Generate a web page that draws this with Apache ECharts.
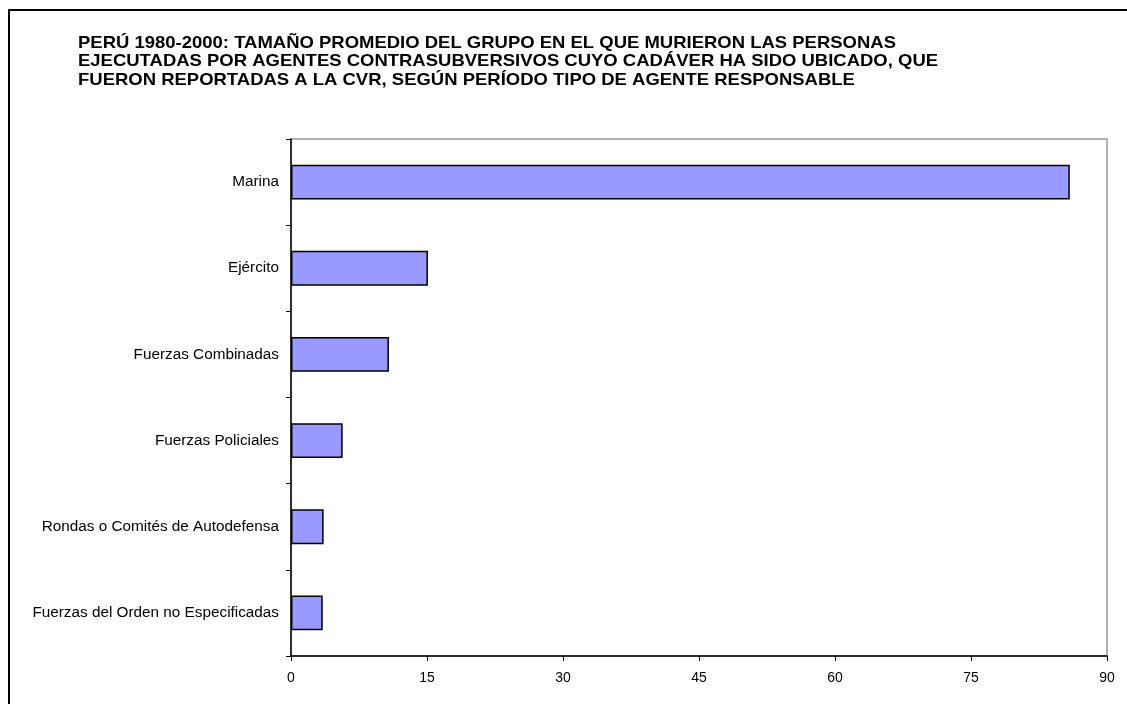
<!DOCTYPE html>
<html>
<head>
<meta charset="utf-8">
<script src="https://cdn.jsdelivr.net/npm/echarts@6/dist/echarts.min.js"></script>
<style>
  html, body { margin: 0; padding: 0; background: #fff; }
  #chart { width: 1127px; height: 704px; }
</style>
</head>
<body>
<div id="chart"></div>
<script>
  // datos
  var categories = ['Marina', 'Ejército', 'Fuerzas Combinadas', 'Fuerzas Policiales',
    'Rondas o Comités de Autodefensa', 'Fuerzas del Orden no Especificadas']
  var values = [85.9, 15.1, 10.8, 5.7, 3.6, 3.5]
  var xTicks = [0, 15, 30, 45, 60, 75, 90]

  var titleText = 'PERÚ 1980-2000: TAMAÑO PROMEDIO DEL GRUPO EN EL QUE MURIERON LAS PERSONAS\n' +
    'EJECUTADAS POR AGENTES CONTRASUBVERSIVOS CUYO CADÁVER HA SIDO UBICADO, QUE\n' +
    'FUERON REPORTADAS A LA CVR, SEGÚN PERÍODO TIPO DE AGENTE RESPONSABLE'

  var myChart = echarts.init(document.getElementById('chart'))
  var option = {
    backgroundColor: '#fff',
    animation: false,
    textStyle: { fontFamily: 'Liberation Sans, Arial, sans-serif' },
    graphic: [{ // marco exterior
      type: 'rect',
      shape: { x: 9, y: 10, width: 1140, height: 720 },
      style: { fill: 'none', stroke: '#000', lineWidth: 2 },
      silent: true
    }, { // titulo (un poco ensanchado como en el original)
      type: 'text',
      x: 78,
      y: 34,
      scaleX: 1.135,
      silent: true,
      style: {
        text: titleText,
        fill: '#000',
        font: 'bold 16.3px "Liberation Sans", Arial, sans-serif',
        lineHeight: 18.5,
        textVerticalAlign: 'top',
        textAlign: 'left'
      }
    }],
    grid: {
      left: 291,
      top: 139,
      right: 20,
      bottom: 48,
      show: true,
      borderColor: '#999',
      borderWidth: 1.5,
      backgroundColor: '#fff'
    },
    xAxis: {
      type: 'value',
      min: xTicks[0],
      max: xTicks[xTicks.length - 1],
      interval: 15,
      axisLine: { show: true, lineStyle: { color: '#000', width: 1.5 } },
      axisTick: { show: true, length: 5, lineStyle: { color: '#000' } },
      axisLabel: { color: '#000', fontSize: 14, margin: 15 },
      splitLine: { show: false }
    },
    yAxis: {
      type: 'category',
      inverse: true,
      data: categories,
      axisLine: { show: true, lineStyle: { color: '#000', width: 1.5 } },
      axisTick: { show: true, length: 5, lineStyle: { color: '#000' } },
      axisLabel: { color: '#000', fontSize: 15.3, margin: 12 }
    },
    series: [{
      type: 'bar',
      data: values,
      barWidth: '40.5%',
      itemStyle: { color: '#9999FF', borderColor: '#000', borderWidth: 1.5 }
    }]
  }
  option && myChart.setOption(option)
</script>
</body>
</html>
